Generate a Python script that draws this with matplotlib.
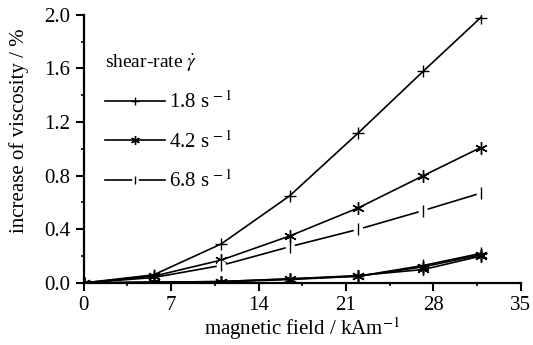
import matplotlib
matplotlib.use("Agg")
import matplotlib.pyplot as plt
from matplotlib.ticker import MultipleLocator

plt.rcParams["font.family"] = ["Liberation Serif", "DejaVu Serif"]
plt.rcParams["mathtext.fontset"] = "stix"

# magnetic field / kAm^-1
field = [0, 5.6, 11, 16.5, 22, 27.2, 31.8]

# upper group (labelled in legend)
rate_18 = [0, 0.06, 0.29, 0.65, 1.12, 1.58, 1.98]
rate_42 = [0, 0.05, 0.17, 0.35, 0.56, 0.80, 1.01]
rate_68 = [0, 0.04, 0.13, 0.27, 0.40, 0.54, 0.67]

# lower group (near zero)
low_18 = [0, 0.005, 0.01, 0.03, 0.05, 0.13, 0.22]
low_42 = [0, 0.005, 0.01, 0.03, 0.055, 0.10, 0.20]
low_68 = [0, 0.003, 0.008, 0.025, 0.05, 0.12, 0.21]

labels = ["1.8 s$^{\\,-1}$", "4.2 s$^{\\,-1}$", "6.8 s$^{\\,-1}$"]

fig = plt.figure(figsize=(5.33, 3.45), dpi=100)
ax = fig.add_axes([0.157, 0.180, 0.820, 0.777])

lw = 1.2
star = (6, 2, 0)
h18, = ax.plot(field, rate_18, "k-", lw=lw, marker="+", ms=8, mew=1.0)
h42, = ax.plot(field, rate_42, "k-", lw=lw, marker=star, ms=9, mew=1.0)
h68a, = ax.plot(field, rate_68, "k-", lw=lw)
h68b, = ax.plot(field[2:], rate_68[2:], "w", lw=0, marker="o", ms=7, mec="none")
h68c, = ax.plot(field, rate_68, "k", lw=0, marker="|", ms=8, mew=1.0)

ax.plot(field, low_18, "k-", lw=lw, marker="+", ms=8, mew=1.0)
ax.plot(field, low_42, "k-", lw=lw, marker=star, ms=9, mew=1.0)
ax.plot(field, low_68, "k-", lw=lw, marker=star, ms=9, mew=1.0)

ax.set_xlim(0, 35)
ax.set_ylim(0, 2.0)
ax.xaxis.set_major_locator(MultipleLocator(7))
ax.xaxis.set_minor_locator(MultipleLocator(3.5))
ax.yaxis.set_major_locator(MultipleLocator(0.4))
ax.yaxis.set_minor_locator(MultipleLocator(0.2))
ax.yaxis.set_major_formatter(plt.FuncFormatter(lambda v, p: f"{v:.1f}"))

for s in ["top", "right"]:
    ax.spines[s].set_visible(False)
for s in ["left", "bottom"]:
    ax.spines[s].set_linewidth(1.6)

ax.tick_params(axis="both", which="major", direction="out", length=6, width=1.5,
               labelsize=15)
ax.tick_params(axis="both", which="minor", direction="out", length=2.5, width=1.2)

ax.set_xlabel("magnetic field / kAm$^{-1}$", fontsize=15, labelpad=0)
ax.set_ylabel("increase of viscosity / %", fontsize=15)
ax.yaxis.set_label_coords(-0.125, 0.567)

leg = ax.legend([h18, h42, (h68a, h68b, h68c)], labels,
                loc="upper left", bbox_to_anchor=(0.005, 0.93), frameon=False,
                title="shear-rate $\\dot{\\gamma}$", title_fontsize=14,
                fontsize=15, handlelength=2.9, handletextpad=0.2,
                labelspacing=0.85, markerscale=0.7)
leg._legend_box.align = "left"

fig.savefig("out.png", dpi=100)
